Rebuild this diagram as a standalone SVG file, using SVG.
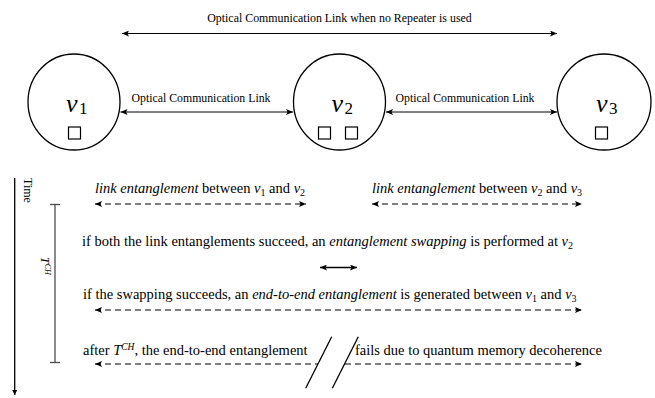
<svg xmlns="http://www.w3.org/2000/svg" width="655" height="398" viewBox="0 0 655 398">
  <style>
    text { font-family: 'Liberation Serif', 'DejaVu Serif', serif; fill: #000; }
    .lbl { font-size: 11.8px; }
    .top { font-size: 11.9px; }
    .txt { font-size: 14.5px; }
    .it { font-style: italic; }
    .node { fill: #fff; stroke: #000; stroke-width: 1.3; }
    .mem { fill: #fff; stroke: #000; stroke-width: 1.2; }
    .solid { stroke: #000; stroke-width: 1; fill: none; }
    .dash { stroke: #000; stroke-width: 1.2; fill: none; stroke-dasharray: 6 4; }
    .vlab { font-size: 26px; font-style: italic; }
    .vsub { font-size: 17px; }
  </style>
  <defs>
    <marker id="ah" markerUnits="userSpaceOnUse" markerWidth="8" markerHeight="6" refX="7" refY="3" orient="auto-start-reverse">
      <path d="M0,0 L7,3 L0,6 L1.5,3 z" fill="#000"/>
    </marker>
    <marker id="tip" markerUnits="userSpaceOnUse" markerWidth="6" markerHeight="6" refX="5" refY="3" orient="auto">
      <path d="M0,0.5 L5,3 L0,5.5 z" fill="#000"/>
    </marker>
  </defs>

  <!-- repeater chain nodes -->
  <g id="v1">
    <ellipse class="node" cx="74" cy="102" rx="46" ry="48"/>
    <text x="66" y="112" class="vlab">v</text><text x="79" y="114" class="vsub">1</text>
    <rect class="mem" x="68.5" y="127" width="12" height="12"/>
  </g>
  <g id="v2">
    <ellipse class="node" cx="339.5" cy="102" rx="46" ry="48"/>
    <text x="331.5" y="112" class="vlab">v</text><text x="344.5" y="114" class="vsub">2</text>
    <rect class="mem" x="318.5" y="127" width="12" height="12"/>
    <rect class="mem" x="345.5" y="127" width="12" height="12"/>
  </g>
  <g id="v3">
    <ellipse class="node" cx="604" cy="102" rx="47" ry="48"/>
    <text x="596" y="112" class="vlab">v</text><text x="609" y="114" class="vsub">3</text>
    <rect class="mem" x="595.5" y="127" width="12" height="12"/>
  </g>

  <!-- links and timeline connectors -->
  <g id="connectors">
    <line class="solid" x1="122" y1="33.5" x2="557" y2="33.5" marker-start="url(#ah)" marker-end="url(#ah)"/>
    <line class="solid" x1="120.5" y1="112" x2="293" y2="112" marker-start="url(#ah)" marker-end="url(#ah)"/>
    <line class="solid" x1="386" y1="112" x2="557" y2="112" marker-start="url(#ah)" marker-end="url(#ah)"/>

    <line class="dash" x1="95" y1="204" x2="306" y2="204" marker-start="url(#ah)" marker-end="url(#ah)"/>
    <line class="dash" x1="372" y1="204" x2="582" y2="204" marker-start="url(#ah)" marker-end="url(#ah)"/>
    <line x1="320" y1="267.5" x2="357" y2="267.5" stroke="#000" stroke-width="1.6" marker-start="url(#ah)" marker-end="url(#ah)"/>
    <line class="dash" x1="95" y1="310" x2="582" y2="310" marker-start="url(#ah)" marker-end="url(#ah)"/>
    <line class="dash" x1="95" y1="364" x2="318" y2="364" marker-start="url(#ah)"/>
    <line class="dash" x1="345" y1="364" x2="582" y2="364" marker-end="url(#ah)"/>
    <!-- break marks -->
    <line x1="331.7" y1="336.7" x2="305.7" y2="388.3" stroke="#000" stroke-width="1.3"/>
    <line x1="358.3" y1="336.7" x2="332.3" y2="388.3" stroke="#000" stroke-width="1.3"/>
  </g>

  <!-- link labels -->
  <text class="top" x="339.5" y="22" text-anchor="middle">Optical Communication Link when no Repeater is used</text>
  <text class="lbl" x="201" y="102" text-anchor="middle">Optical Communication Link</text>
  <text class="lbl" x="465" y="102" text-anchor="middle">Optical Communication Link</text>

  <!-- time axis -->
  <g id="time-axis">
    <line x1="14.7" y1="178" x2="14.7" y2="395" stroke="#000" stroke-width="1.3" marker-end="url(#tip)"/>
    <text x="0" y="0" font-size="12" transform="translate(24,178) rotate(90)">Time</text>
  </g>
  <g id="t-ch">
    <line x1="55" y1="204.5" x2="55" y2="362.5" stroke="#4d4d4d" stroke-width="1.3"/>
    <line x1="50" y1="204.5" x2="60" y2="204.5" stroke="#4d4d4d" stroke-width="1.3"/>
    <line x1="50" y1="362.5" x2="60" y2="362.5" stroke="#4d4d4d" stroke-width="1.3"/>
    <text x="0" y="0" font-size="12" transform="translate(41,257) rotate(90)"><tspan class="it">T</tspan><tspan class="it" font-size="8" dy="-4">CH</tspan></text>
  </g>

  <!-- protocol steps -->
  <text class="txt" x="95" y="193"><tspan class="it">link entanglement</tspan> between <tspan class="it">v</tspan><tspan font-size="10" dy="2.5">1</tspan><tspan dy="-2.5"> and </tspan><tspan class="it">v</tspan><tspan font-size="10" dy="2.5">2</tspan></text>
  <text class="txt" x="372" y="193"><tspan class="it">link entanglement</tspan> between <tspan class="it">v</tspan><tspan font-size="10" dy="2.5">2</tspan><tspan dy="-2.5"> and </tspan><tspan class="it">v</tspan><tspan font-size="10" dy="2.5">3</tspan></text>
  <text class="txt" x="82" y="246">if both the link entanglements succeed, an <tspan class="it">entanglement swapping</tspan> is performed at <tspan class="it">v</tspan><tspan font-size="10" dy="2.5">2</tspan></text>
  <text class="txt" x="83" y="299">if the swapping succeeds, an <tspan class="it">end-to-end entanglement</tspan> is generated between <tspan class="it">v</tspan><tspan font-size="10" dy="2.5">1</tspan><tspan dy="-2.5"> and </tspan><tspan class="it">v</tspan><tspan font-size="10" dy="2.5">3</tspan></text>
  <text class="txt" x="83" y="355">after <tspan class="it">T</tspan><tspan class="it" font-size="9.5" dy="-5">CH</tspan><tspan dy="5">, the end-to-end entanglement</tspan></text>
  <text class="txt" x="355" y="355">fails due to quantum memory decoherence</text>
</svg>
